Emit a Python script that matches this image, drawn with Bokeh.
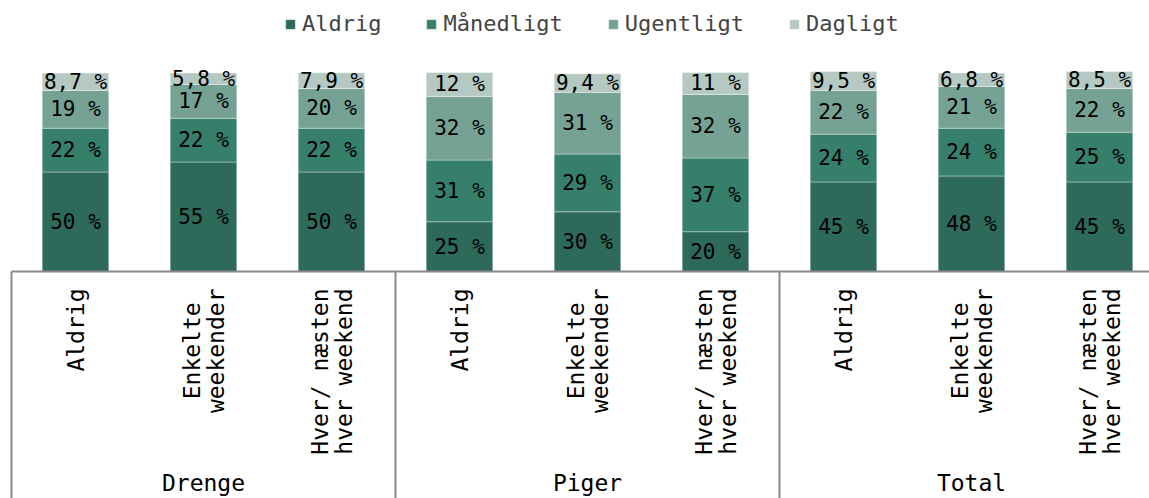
import numpy as np
from bokeh.plotting import figure
from bokeh.models import ColumnDataSource, Range1d, Legend, LegendItem
from bokeh.core.properties import value
from bokeh.embed import file_html
from bokeh.resources import INLINE

# ---- data ----
groups = ["Drenge", "Piger", "Total"]
subcats = ["Aldrig", "Enkelte\nweekender", "Hver/ næsten\nhver weekend"]
series = ["Aldrig", "Månedligt", "Ugentligt", "Dagligt"]
aldrig    = [50, 55, 50, 25, 30, 20, 45, 48, 45]
maanedligt = [22, 22, 22, 31, 29, 37, 24, 24, 25]
ugentligt = [19, 17, 20, 32, 31, 32, 22, 21, 22]
dagligt   = [8.7, 5.8, 7.9, 12, 9.4, 11, 9.5, 6.8, 8.5]
colors = ["#2e6a59", "#367f6b", "#75a295", "#b5c9c2"]

FONT = "DejaVu Sans Mono"

n = len(groups) * len(subcats)
xs = [i + 0.5 for i in range(n)]

src = ColumnDataSource(dict(x=xs, Aldrig=aldrig, Månedligt=maanedligt,
                            Ugentligt=ugentligt, Dagligt=dagligt))

W, H = 1149, 498
px_per_cat = 128.0
x0_page = 11.0
base_page = 271.0
px_per_pct = 1.99

x_start = (0 - x0_page) / px_per_cat
x_end = (W - x0_page) / px_per_cat
y_end = (base_page - 0) / px_per_pct
y_start = -(H - base_page) / px_per_pct

p = figure(width=W, height=H, output_backend="svg", toolbar_location=None,
           x_range=Range1d(x_start, x_end), y_range=Range1d(y_start, y_end),
           x_axis_location=None, y_axis_location=None,
           min_border=0, min_border_left=0, min_border_right=0,
           min_border_top=0, min_border_bottom=0)
p.outline_line_color = None
p.grid.visible = False
p.background_fill_color = "white"

rs = p.vbar_stack(series, x="x", width=0.52, source=src, color=colors,
                  line_color="white", line_alpha=0.35, line_width=1)

# data labels
vals = np.array([aldrig, maanedligt, ugentligt, dagligt], dtype=float)
cum = np.cumsum(vals, axis=0)
mids = cum - vals / 2
lx, ly, lt = [], [], []
for s in range(vals.shape[0]):
    for i in range(n):
        v = vals[s, i]
        lx.append(xs[i])
        ly.append(mids[s, i])
        lt.append(f"{v:.0f} %" if v >= 10 else f"{v:.1f} %".replace(".", ","))
p.text(x=lx, y=ly, text=lt, text_align="center", text_baseline="middle",
       text_font=value(FONT), text_font_size="21px", text_color="black")

# axis lines
line_col = "#8a8a8a"
p.segment(x0=[0], y0=[0], x1=[n], y1=[0], line_color=line_col, line_width=2)
sep_x = [k * len(subcats) for k in range(len(groups) + 1)]
p.segment(x0=sep_x, y0=[0] * len(sep_x), x1=sep_x, y1=[y_start] * len(sep_x),
          line_color=line_col, line_width=2)

# category labels (rotated), each line placed separately
fs = 23
adv = 0.602 * fs
top_y = -(288 - base_page) / px_per_pct
cx, cy, ct, cxo, cyo = [], [], [], [], []
for i in range(n):
    lines = subcats[i % len(subcats)].split("\n")
    maxlen = max(len(l) for l in lines)
    for j, l in enumerate(lines):
        cx.append(xs[i])
        cy.append(top_y)
        ct.append(l)
        cxo.append((j - (len(lines) - 1) / 2) * 24)
        cyo.append(maxlen * adv / 2)
csrc = ColumnDataSource(dict(x=cx, y=cy, text=ct, xo=cxo, yo=cyo))
p.text(x="x", y="y", text="text", x_offset="xo", y_offset="yo", source=csrc,
       angle=np.pi / 2, text_align="center", text_baseline="middle",
       text_font=value(FONT), text_font_size=f"{fs}px", text_color="black")

# group labels
gx = [k * len(subcats) + len(subcats) / 2 for k in range(len(groups))]
gy = [-(495 - base_page) / px_per_pct] * len(groups)
p.text(x=gx, y=gy, text=groups, text_align="center", text_baseline="bottom",
       text_font=value(FONT), text_font_size=f"{fs}px", text_color="black")

# legend
legend = Legend(items=[LegendItem(label=s, renderers=[r]) for s, r in zip(series, rs)],
                orientation="horizontal", location=(284, H - 36),
                glyph_width=12, glyph_height=12, label_standoff=6, spacing=44,
                padding=0, margin=0, border_line_color=None,
                background_fill_alpha=0, label_text_font=FONT,
                label_text_font_size="22px", label_height=24)
p.add_layout(legend)

open("out.html", "w").write(file_html(p, INLINE))
